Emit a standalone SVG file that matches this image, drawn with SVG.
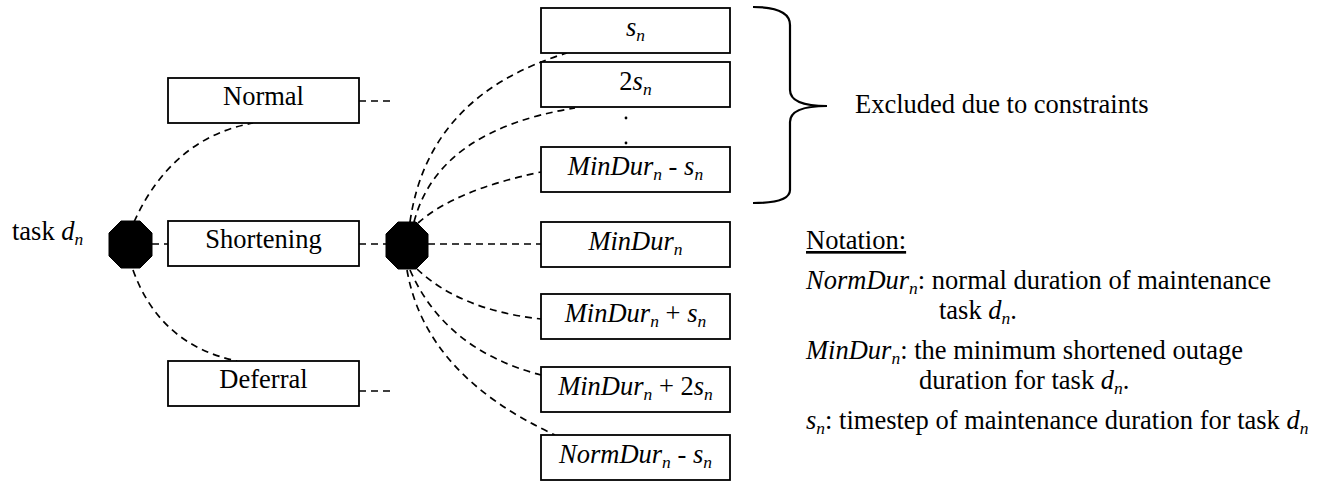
<svg xmlns="http://www.w3.org/2000/svg" width="1322" height="482" viewBox="0 0 1322 482">
<style>
.box{fill:#fff;stroke:#000;stroke-width:1.8}
.oct{fill:#000;stroke:#000;stroke-width:1}
.con{fill:none;stroke:#000;stroke-width:1.7;stroke-dasharray:7 5}
.brace{fill:none;stroke:#000;stroke-width:2.2}
text{font-family:'Liberation Serif','DejaVu Serif',serif;fill:#000}
.lbl{font-size:26.5px;text-anchor:middle}
.txt{font-size:26.5px}
.it{font-style:italic}
.sub{font-size:17.5px;font-style:italic}
</style>
<rect width="1322" height="482" fill="#fff"/>
<g id="connectors">
<line class="con" x1="152" y1="244" x2="168" y2="244"/>
<line class="con" x1="359" y1="101" x2="390" y2="101"/>
<line class="con" x1="359" y1="244" x2="386" y2="244"/>
<line class="con" x1="359" y1="391" x2="390" y2="391"/>
<line class="con" x1="428" y1="244" x2="541" y2="244"/>
<path class="con" d="M134,222 Q172,138 253,123"/>
<path class="con" d="M133,270 Q160,345 237,361"/>
<path class="con" d="M410,222 Q428,95 567,53"/>
<path class="con" d="M414,222 Q438,130 575,108"/>
<path class="con" d="M418,223 Q455,190 541,172"/>
<path class="con" d="M417,269 Q460,310 541,319"/>
<path class="con" d="M410,270 Q445,350 541,375"/>
<path class="con" d="M407,270 Q425,375 555,435"/>
</g>
<g id="task-label"><text class="txt" x="12" y="240">task <tspan class="it">d</tspan><tspan class="sub" dy="5">n</tspan></text></g>
<g id="oct-left"><polygon class="oct" points="121,221 140,221 152,233 152,256 140,268 121,268 109,256 109,233"/></g>
<g id="oct-right"><polygon class="oct" points="398,222 416,222 428,234 428,257 416,269 398,269 386,257 386,234"/></g>
<g id="normal"><rect class="box" x="168" y="78" width="191" height="45"/><text class="lbl" x="263.5" y="105">Normal</text></g>
<g id="shortening"><rect class="box" x="168" y="221" width="191" height="45"/><text class="lbl" x="263.5" y="248">Shortening</text></g>
<g id="deferral"><rect class="box" x="168" y="361" width="191" height="45"/><text class="lbl" x="263.5" y="388">Deferral</text></g>
<g id="b-sn"><rect class="box" x="541" y="8" width="189" height="45"/><text class="lbl" x="635.5" y="36"><tspan class="it">s</tspan><tspan class="sub" dy="5">n</tspan></text></g>
<g id="b-2sn"><rect class="box" x="541" y="62" width="189" height="45"/><text class="lbl" x="635.5" y="90">2<tspan class="it">s</tspan><tspan class="sub" dy="5">n</tspan></text></g>
<g id="dots"><circle cx="626" cy="118" r="1.4"/><circle cx="626" cy="143" r="1.4"/></g>
<g id="b-min-s"><rect class="box" x="541" y="147" width="189" height="45"/><text class="lbl" x="635.5" y="175"><tspan class="it">MinDur</tspan><tspan class="sub" dy="5">n</tspan><tspan dy="-5"> - </tspan><tspan class="it">s</tspan><tspan class="sub" dy="5">n</tspan></text></g>
<g id="b-min"><rect class="box" x="541" y="222" width="189" height="45"/><text class="lbl" x="635.5" y="250"><tspan class="it">MinDur</tspan><tspan class="sub" dy="5">n</tspan></text></g>
<g id="b-min+s"><rect class="box" x="541" y="294" width="189" height="45"/><text class="lbl" x="635.5" y="322"><tspan class="it">MinDur</tspan><tspan class="sub" dy="5">n</tspan><tspan dy="-5"> + </tspan><tspan class="it">s</tspan><tspan class="sub" dy="5">n</tspan></text></g>
<g id="b-min+2s"><rect class="box" x="541" y="367" width="189" height="45"/><text class="lbl" x="635.5" y="395"><tspan class="it">MinDur</tspan><tspan class="sub" dy="5">n</tspan><tspan dy="-5"> + 2</tspan><tspan class="it">s</tspan><tspan class="sub" dy="5">n</tspan></text></g>
<g id="b-norm-s"><rect class="box" x="541" y="435" width="189" height="45"/><text class="lbl" x="635.5" y="463"><tspan class="it">NormDur</tspan><tspan class="sub" dy="5">n</tspan><tspan dy="-5"> - </tspan><tspan class="it">s</tspan><tspan class="sub" dy="5">n</tspan></text></g>
<g id="excluded">
<path class="brace" d="M753,7 C775,7 790,12 790,25 L790,90 C790,100 800,106 827,106 C800,106 790,112 790,122 L790,190 C790,200 775,203 753,203"/>
<text class="txt" x="855" y="113">Excluded due to constraints</text>
</g>
<g id="notation">
<text class="txt" x="806" y="249" text-decoration="underline">Notation:</text>
<text class="txt" x="806" y="289"><tspan class="it">NormDur</tspan><tspan class="sub" dy="5">n</tspan><tspan dy="-5">: normal duration of maintenance</tspan></text>
<text class="txt" x="939" y="319">task <tspan class="it">d</tspan><tspan class="sub" dy="5">n</tspan><tspan dy="-5">.</tspan></text>
<text class="txt" x="806" y="359"><tspan class="it">MinDur</tspan><tspan class="sub" dy="5">n</tspan><tspan dy="-5">: the minimum shortened outage</tspan></text>
<text class="txt" x="919" y="389">duration for task <tspan class="it">d</tspan><tspan class="sub" dy="5">n</tspan><tspan dy="-5">.</tspan></text>
<text class="txt" x="806" y="429"><tspan class="it">s</tspan><tspan class="sub" dy="5">n</tspan><tspan dy="-5">: timestep of maintenance duration for task </tspan><tspan class="it">d</tspan><tspan class="sub" dy="5">n</tspan></text>
</g>
</svg>
